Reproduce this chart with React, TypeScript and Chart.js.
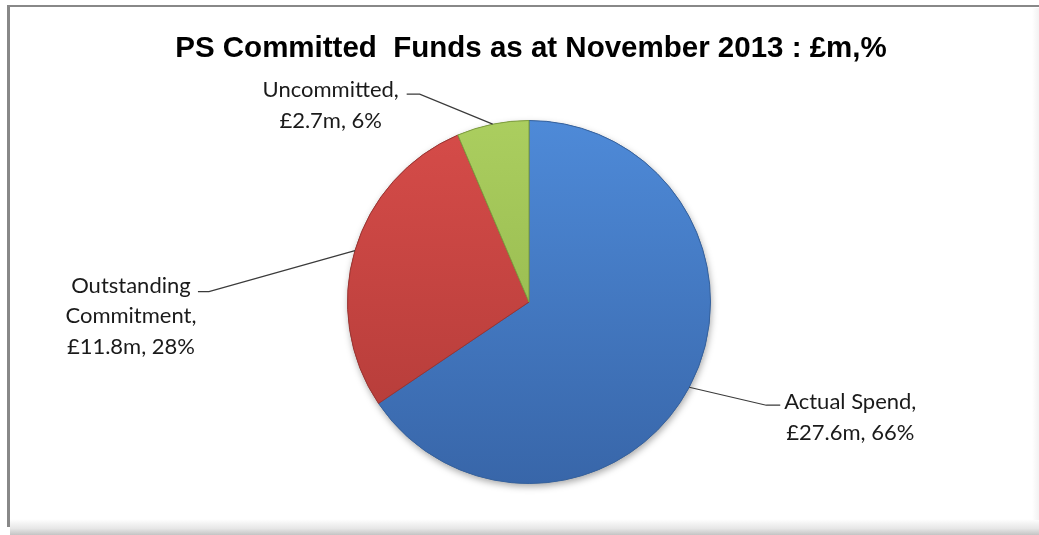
import React, { useEffect, useRef } from 'react';
import { Chart, registerables } from 'chart.js';

Chart.register(...registerables);

const TITLE = 'PS Committed  Funds as at November 2013 : £m,%';
const categories = ['Actual Spend', 'Outstanding Commitment', 'Uncommitted'];
const values = [27.6, 11.8, 2.7];
const labelLines = [
  ['Actual Spend,', '£27.6m, 66%'],
  ['Outstanding', 'Commitment,', '£11.8m, 28%'],
  ['Uncommitted,', '£2.7m, 6%'],
];

const sliceTop = ['#4e8ad8', '#d64c49', '#abce5f'];
const sliceBottom = ['#3866a9', '#b03a37', '#8caf47'];
const sliceBorder = ['#35629f', '#9c3431', '#7e9e3e'];

// leader geometry relative to the arc's mid-angle edge point
const labelLayout = [
  { ex: 77, ey: 18, hx: 14, tx: 70, ty: -3 },
  { ex: -146, ey: 41, hx: -11, tx: -67, ty: -6 },
  { ex: -73, ey: -30, hx: -13, tx: -76, ty: -4 },
];

const LABEL_FONT = '22px Lato, "Open Sans", sans-serif';
const LINE_H = 30.5;

const titlePlugin = {
  id: 'customTitle',
  afterDraw(chart: any) {
    const ctx = chart.ctx;
    ctx.save();
    ctx.font = 'bold 29.5px "Liberation Sans", Arial, sans-serif';
    ctx.fillStyle = '#000';
    ctx.textAlign = 'center';
    ctx.textBaseline = 'alphabetic';
    ctx.fillText(TITLE, 531, 57);
    ctx.restore();
  },
};

const shadowPlugin = {
  id: 'pieShadow',
  beforeDatasetsDraw(chart: any) {
    const arc = chart.getDatasetMeta(0).data[0];
    if (!arc) return;
    const ctx = chart.ctx;
    ctx.save();
    ctx.shadowColor = 'rgba(0,0,0,0.35)';
    ctx.shadowBlur = 7;
    ctx.shadowOffsetX = 1;
    ctx.shadowOffsetY = 3;
    ctx.beginPath();
    ctx.arc(arc.x, arc.y, arc.outerRadius, 0, Math.PI * 2);
    ctx.fillStyle = '#6a6a6a';
    ctx.fill();
    ctx.restore();
  },
};

const labelPlugin = {
  id: 'leaderLabels',
  afterDatasetsDraw(chart: any) {
    const ctx = chart.ctx;
    const meta = chart.getDatasetMeta(0);
    meta.data.forEach((arc: any, i: number) => {
      const mid = (arc.startAngle + arc.endAngle) / 2;
      const ax = arc.x + Math.cos(mid) * arc.outerRadius;
      const ay = arc.y + Math.sin(mid) * arc.outerRadius;
      const L = labelLayout[i];
      const elx = ax + L.ex;
      const ely = ay + L.ey;
      const enx = elx + L.hx;
      ctx.save();
      ctx.strokeStyle = '#3a3a3a';
      ctx.lineWidth = 1.2;
      ctx.beginPath();
      ctx.moveTo(ax, ay);
      ctx.lineTo(elx, ely);
      ctx.lineTo(enx, ely);
      ctx.stroke();
      ctx.font = LABEL_FONT;
      ctx.fillStyle = '#1a1a1a';
      ctx.textAlign = 'center';
      ctx.textBaseline = 'middle';
      const cx = enx + L.tx;
      const cy = ely + L.ty;
      labelLines[i].forEach((line, k) => {
        ctx.fillText(line, cx, cy + k * LINE_H);
      });
      ctx.restore();
    });
  },
};

function sliceFill(c: any) {
  const chart = c.chart;
  const area = chart.chartArea;
  const i = c.dataIndex;
  if (!area) return sliceTop[i];
  const g = chart.ctx.createLinearGradient(0, area.top, 0, area.bottom);
  g.addColorStop(0, sliceTop[i]);
  g.addColorStop(1, sliceBottom[i]);
  return g;
}

export default function App() {
  const ref = useRef<HTMLCanvasElement | null>(null);
  useEffect(() => {
    if (!ref.current) return;
    const chart = new Chart(ref.current, {
      type: 'pie',
      data: {
        labels: categories,
        datasets: [
          {
            data: values,
            backgroundColor: sliceFill as any,
            borderColor: sliceBorder,
            borderWidth: 1,
          },
        ],
      },
      options: {
        responsive: false,
        animation: false,
        devicePixelRatio: 1,
        layout: { padding: { left: 347, right: 328, top: 120, bottom: 51 } },
        plugins: {
          legend: { display: false },
          title: { display: false },
          tooltip: { enabled: false },
        },
      },
      plugins: [shadowPlugin, labelPlugin, titlePlugin],
    });
    return () => chart.destroy();
  }, []);

  return (
    <div
      style={{
        position: 'fixed',
        left: 0,
        top: 0,
        width: 1039,
        height: 535,
        background: '#fff',
        overflow: 'hidden',
      }}
    >
      <div
        style={{
          position: 'absolute',
          left: 7,
          top: 5,
          width: 1040,
          height: 520,
          borderLeft: '3px solid #888',
          borderTop: '2.5px solid #888',
          background: '#fff',
        }}
      />
      <div
        style={{
          position: 'absolute',
          left: 10,
          top: 519,
          width: 1029,
          height: 16,
          background: 'linear-gradient(to bottom, #ffffff, #e6e6e6 60%, #c4c4c4)',
        }}
      />
      <div
        style={{
          position: 'absolute',
          left: 1032,
          top: 8,
          width: 7,
          height: 512,
          background: 'linear-gradient(to right, #ffffff, #f2f2f2)',
        }}
      />
      <canvas
        ref={ref}
        width={1039}
        height={535}
        style={{ position: 'absolute', left: 0, top: 0, width: 1039, height: 535 }}
      />
    </div>
  );
}
